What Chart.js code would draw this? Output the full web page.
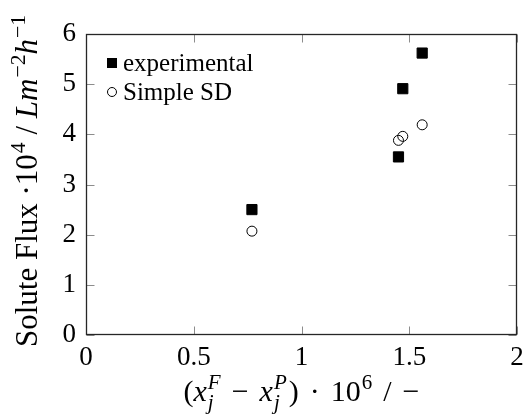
<!DOCTYPE html>
<html>
<head>
<meta charset="utf-8">
<script src="https://cdn.jsdelivr.net/npm/chart.js@4.4.0/dist/chart.umd.min.js"></script>
<style>
html, body { margin: 0; padding: 0; background: #fff; }
canvas { display: block; }
</style>
</head>
<body>
<canvas id="chart" width="531" height="415"></canvas>
<script>
// values
const seriesNames = ['experimental', 'Simple SD'];
const expX = [0.77, 1.45, 1.47, 1.56];
const expY = [2.50, 3.55, 4.91, 5.62];
const sdX = [0.77, 1.45, 1.47, 1.56];
const sdY = [2.07, 3.88, 3.96, 4.19];
const xTicks = [0, 0.5, 1, 1.5, 2];
const xTickLabels = ['0', '0.5', '1', '1.5', '2'];
const yTicks = [0, 1, 2, 3, 4, 5, 6];
const yTickLabels = ['0', '1', '2', '3', '4', '5', '6'];

const FONT = '"Liberation Serif", "DejaVu Serif", serif';
let tickSize = 27, xTitleSize = 30, yTitleSize = 31, legendSize = 25;

function toPoints(xs, ys) {
  return xs.map((x, i) => ({x: x, y: ys[i]}));
}

// a line of text with sub/superscripts, for the axis titles
// pre = extra space in px before a part (math spacing)
function partWidth(ctx, p, size) {
  ctx.font = (p.it ? 'italic ' : '') + size + 'px ' + FONT;
  let w = ctx.measureText(p.t).width;
  let s = 0;
  if (p.sup) { ctx.font = (p.supIt ? 'italic ' : '') + (size * 0.7) + 'px ' + FONT; s = Math.max(s, ctx.measureText(p.sup).width + 1); }
  if (p.sub) { ctx.font = (p.subIt ? 'italic ' : '') + (size * 0.7) + 'px ' + FONT; s = Math.max(s, ctx.measureText(p.sub).width + 1); }
  return w + s + (p.pre || 0);
}

function drawRich(ctx, parts, size, cx, baseline) {
  let total = 0;
  parts.forEach(p => { total += partWidth(ctx, p, size); });
  let x = cx - total / 2;
  ctx.textBaseline = 'alphabetic';
  ctx.textAlign = 'left';
  ctx.fillStyle = '#000';
  parts.forEach(p => {
    x += p.pre || 0;
    ctx.font = (p.it ? 'italic ' : '') + size + 'px ' + FONT;
    ctx.fillText(p.t, x, baseline);
    x += ctx.measureText(p.t).width;
    let s = 0;
    if (p.sup) {
      ctx.font = (p.supIt ? 'italic ' : '') + (size * 0.7) + 'px ' + FONT;
      ctx.fillText(p.sup, x + 1, baseline - size * 0.4);
      s = Math.max(s, ctx.measureText(p.sup).width + 1);
    }
    if (p.sub) {
      ctx.font = (p.subIt ? 'italic ' : '') + (size * 0.7) + 'px ' + FONT;
      ctx.fillText(p.sub, x + 1, baseline + size * 0.28);
      s = Math.max(s, ctx.measureText(p.sub).width + 1);
    }
    x += s;
  });
}

const xTitle = [
  {t: '('},
  {t: 'x', it: true, sup: 'F', supIt: true, sub: 'j', subIt: true},
  {t: '\u2212', pre: 11},
  {t: 'x', it: true, sup: 'P', supIt: true, sub: 'j', subIt: true, pre: 11},
  {t: ')', pre: 2},
  {t: '\u00b7', pre: 11},
  {t: '10', sup: '6', pre: 11},
  {t: '/', pre: 11},
  {t: '\u2212', pre: 11}
];
const yTitle = [
  {t: 'Solute Flux \u00b710', sup: '4'},
  {t: ' / '},
  {t: 'Lm', it: true, sup: '\u22122'},
  {t: 'h', it: true, sup: '\u22121'}
];

const framePlugin = {
  id: 'frame',
  afterDraw(chart) {
    const ctx = chart.ctx;
    const a = chart.chartArea;
    const xs = chart.scales.x, ys = chart.scales.y;
    const L = Math.round(a.left) + 0.5, R = Math.round(a.right) - 0.5;
    const T = Math.round(a.top) + 0.5, B = Math.round(a.bottom) - 0.5;
    const tl = 8;
    ctx.save();
    // inward ticks on all four sides
    ctx.strokeStyle = '#8c8c8c';
    ctx.lineWidth = 1;
    ctx.beginPath();
    xTicks.forEach(v => {
      const px = Math.round(xs.getPixelForValue(v)) + 0.5;
      ctx.moveTo(px, B); ctx.lineTo(px, B - tl);
      ctx.moveTo(px, T); ctx.lineTo(px, T + tl);
    });
    yTicks.forEach(v => {
      const py = Math.round(ys.getPixelForValue(v)) + 0.5;
      ctx.moveTo(L, py); ctx.lineTo(L + tl, py);
      ctx.moveTo(R, py); ctx.lineTo(R - tl, py);
    });
    ctx.stroke();
    // frame
    ctx.strokeStyle = '#262626';
    ctx.lineWidth = 1.3;
    ctx.strokeRect(L, T, R - L, B - T);

    // legend in the upper left corner
    const ds = chart.data.datasets;
    const mx = a.left + 26;
    const rows = [a.top + 29, a.top + 58];
    ctx.font = legendSize + 'px ' + FONT;
    ctx.textBaseline = 'middle';
    ctx.textAlign = 'left';
    ds.forEach((d, i) => {
      const my = rows[i];
      if (d.pointStyle === 'rect') {
        ctx.fillStyle = d.backgroundColor;
        ctx.fillRect(mx - 5, my - 5, 10, 10);
      } else {
        ctx.beginPath();
        ctx.arc(mx, my, 4.5, 0, 2 * Math.PI);
        ctx.fillStyle = '#fff';
        ctx.fill();
        ctx.strokeStyle = d.borderColor;
        ctx.lineWidth = 1;
        ctx.stroke();
      }
      ctx.fillStyle = '#000';
      ctx.fillText(d.label, mx + 11, my + 1);
    });

    // axis titles
    drawRich(ctx, xTitle, xTitleSize, (a.left + a.right) / 2, 401);
    ctx.translate(37, 181);
    ctx.rotate(-Math.PI / 2);
    drawRich(ctx, yTitle, yTitleSize, 0, 0);
    ctx.restore();
  }
};

const ctx = document.getElementById('chart').getContext('2d');
const chart = new Chart(ctx, {
  type: 'scatter',
  data: {
    datasets: [{
      label: seriesNames[0],
      data: toPoints(expX, expY),
      pointStyle: 'rect',
      pointRadius: 7.2,
      pointBorderWidth: 1,
      backgroundColor: '#000',
      borderColor: '#000'
    }, {
      label: seriesNames[1],
      data: toPoints(sdX, sdY),
      pointStyle: 'circle',
      pointRadius: 5,
      pointBorderWidth: 1,
      backgroundColor: 'rgba(255,255,255,0)',
      borderColor: '#000'
    }]
  },
  options: {
    responsive: false,
    animation: false,
    layout: { padding: { left: 0, right: 14, top: 34, bottom: 0 } },
    plugins: {
      legend: { display: false },
      tooltip: { enabled: false }
    },
    scales: {
      x: {
        type: 'linear',
        min: 0,
        max: 2,
        grid: { display: false, drawTicks: false },
        border: { display: false },
        afterBuildTicks: s => { s.ticks = xTicks.map(v => ({value: v})); },
        afterFit: s => { s.height = 80; },
        ticks: {
          padding: 7,
          color: '#000',
          maxRotation: 0,
          font: { family: FONT, size: tickSize },
          callback: (v) => xTickLabels[xTicks.indexOf(v)]
        }
      },
      y: {
        type: 'linear',
        min: 0,
        max: 6,
        grid: { display: false, drawTicks: false },
        border: { display: false },
        afterBuildTicks: s => { s.ticks = yTicks.map(v => ({value: v})); },
        afterFit: s => { s.width = 86; },
        ticks: {
          padding: 10,
          color: '#000',
          font: { family: FONT, size: tickSize },
          callback: (v) => yTickLabels[yTicks.indexOf(v)]
        }
      }
    }
  },
  plugins: [framePlugin]
});
</script>
</body>
</html>
